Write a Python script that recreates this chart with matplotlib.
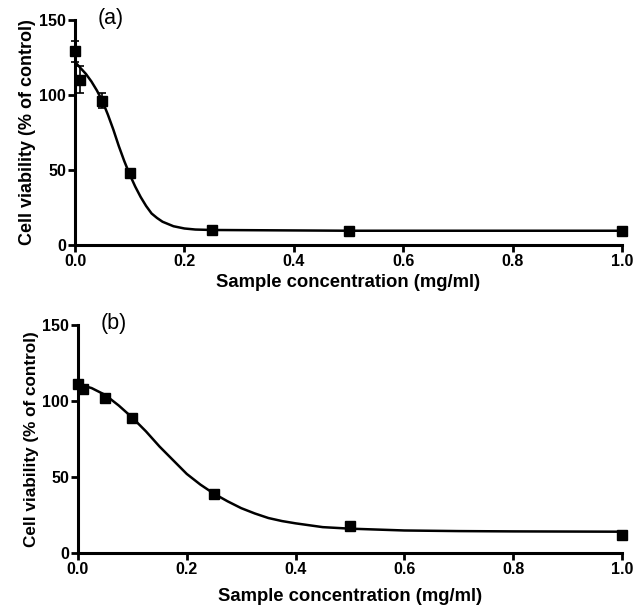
import numpy as np
import matplotlib
matplotlib.use("Agg")
import matplotlib.pyplot as plt

plt.rcParams['font.family'] = ['Liberation Sans', 'DejaVu Sans']

conc = [0.0, 0.01, 0.05, 0.1, 0.25, 0.5, 1.0]
via_a = [129, 110, 96, 48, 10, 9.5, 9.5]
err_a = [7, 9, 5, 2, 1, 1, 1]
via_b = [111, 108, 102, 89, 38.5, 18, 12]
err_b = [2, 1.5, 2, 2, 1, 1.5, 1]

# fitted curves
fit_a_x = [0.0, 0.01, 0.02, 0.03, 0.04, 0.05, 0.06, 0.07, 0.08, 0.09, 0.10,
           0.11, 0.12, 0.13, 0.14, 0.15, 0.16, 0.18, 0.20, 0.22, 0.25, 0.5, 1.0]
fit_a_y = [122, 118, 114, 109, 103, 96, 87, 77, 66, 56, 47,
           39, 32, 26, 21, 18, 15.5, 12.5, 11, 10.3, 10, 9.5, 9.5]
fit_b_x = [0.0, 0.025, 0.05, 0.075, 0.1, 0.125, 0.15, 0.175, 0.2, 0.225,
           0.25, 0.275, 0.3, 0.325, 0.35, 0.375, 0.4, 0.45, 0.5, 0.6, 0.7,
           0.8, 1.0]
fit_b_y = [111, 108.5, 104, 97, 89, 80, 70, 61, 52, 45,
           39, 34, 29.5, 26, 23, 21, 19.5, 17, 16, 14.8, 14.4,
           14.2, 14]

xticks = [0.0, 0.2, 0.4, 0.6, 0.8, 1.0]
yticks = [0, 50, 100, 150]

fig = plt.figure(figsize=(6.34, 6.07), dpi=100)
ax_a = fig.add_axes([0.1183, 0.5964, 0.8628, 0.3707])
ax_b = fig.add_axes([0.1230, 0.0890, 0.8580, 0.3756])

panels = [(ax_a, via_a, err_a, fit_a_x, fit_a_y, "(a)", 13, -0.13),
          (ax_b, via_b, err_b, fit_b_x, fit_b_y, "(b)", 12.3, -0.155)]

for ax, via, err, fx, fy, tag, ylab_size, xlab_y in panels:
    ax.plot(fx, fy, color="black", lw=1.8, clip_on=False, zorder=3)
    ax.errorbar(conc, via, yerr=err, fmt="s", color="black", ms=6.5,
                ecolor="black", elinewidth=1.2, capsize=3, capthick=1.2,
                clip_on=False, zorder=4)
    ax.set_xlim(0, 1.0)
    ax.set_ylim(0, 150)
    ax.set_xticks(xticks)
    ax.set_xticklabels([f"{t:.1f}" for t in xticks])
    ax.set_yticks(yticks)
    ax.spines["top"].set_visible(False)
    ax.spines["right"].set_visible(False)
    ax.spines["left"].set_linewidth(2.2)
    ax.spines["bottom"].set_linewidth(2.2)
    ax.tick_params(direction="out", length=5, width=2, labelsize=11.5,
                   pad=1.5)
    for lab in ax.get_xticklabels() + ax.get_yticklabels():
        lab.set_fontweight("bold")
    ax.set_xlabel("Sample concentration (mg/ml)", fontsize=13.3,
                  fontweight="bold")
    ax.xaxis.set_label_coords(0.5, xlab_y)
    ax.set_ylabel("Cell viability (% of control)", fontsize=ylab_size,
                  fontweight="bold", labelpad=2)
    ax.text(0.042, 151, tag, fontsize=15.5, ha="left", va="center")

fig.savefig("out.png", dpi=100)
